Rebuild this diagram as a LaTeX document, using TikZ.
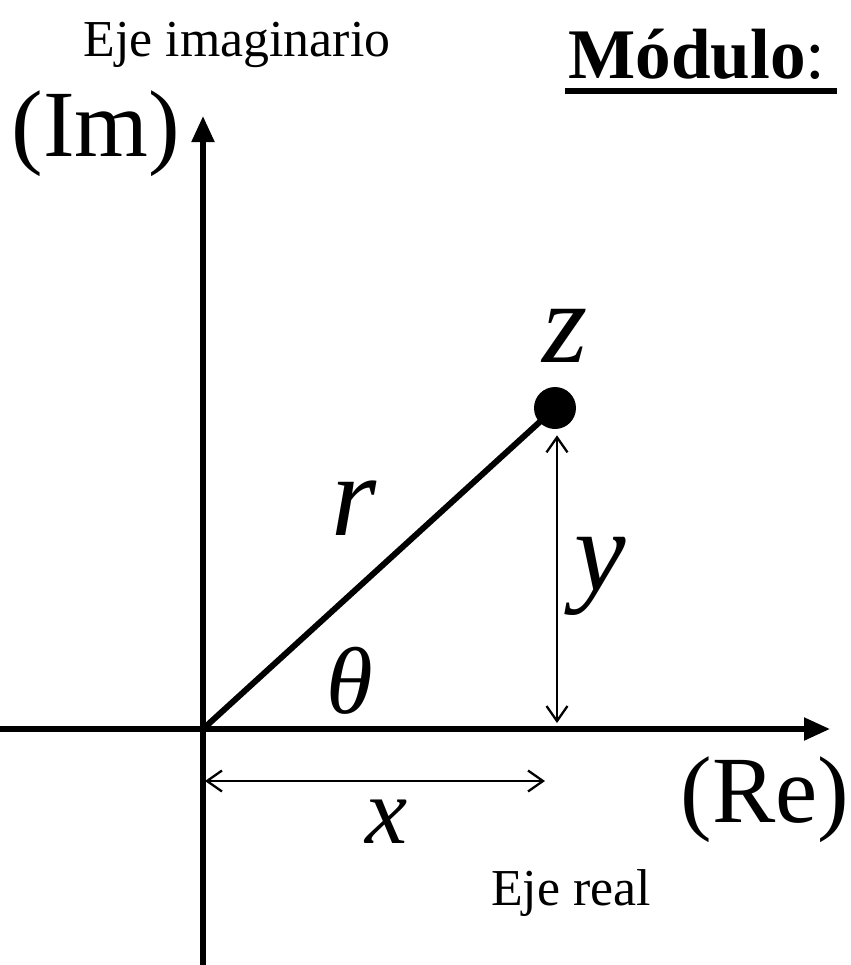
\documentclass[tikz,border=0pt]{standalone}
\usepackage{fontspec}
\setmainfont{Liberation Serif}
\usetikzlibrary{arrows.meta, positioning}
\tikzstyle{axisarrow} = [line width=2.9pt, -{Triangle[length=0.52cm, width=0.44cm]}]
\tikzstyle{measure} = [line width=1.3pt, {Straight Barb[length=0.3cm, width=0.42cm]}-{Straight Barb[length=0.3cm, width=0.42cm]}]
\tikzstyle{smalltext} = [font=\fontsize{29.5}{34}\selectfont, inner sep=0pt, anchor=base]
\tikzstyle{bigtext} = [font=\fontsize{54}{60}\selectfont, inner sep=0pt, anchor=base]
\tikzstyle{mathsym} = [font=\fontsize{66}{70}\selectfont\itshape, inner sep=0pt, anchor=base]

\begin{document}
\begin{tikzpicture}[x=0.02cm, y=-0.02cm]
    \useasboundingbox (0,0) rectangle (851,965);

    % Nodes
    \coordinate (origin) at (203,729);
    \coordinate (reend) at (830,729);
    \coordinate (reBegin) at (0,729);
    \coordinate (imend) at (203,116);
    \coordinate (imBegin) at (203,965);
    \node (z) [circle, fill=black, inner sep=0pt, minimum size=0.84cm] at (555,408) {};
    \coordinate (foot) at (557,723);
    \coordinate (xstart) at (205,781);
    \coordinate (xend) at (545,781);

    \node (ejeim) [smalltext] at (237,56) {Eje imaginario};
    \node (im) [bigtext] at (96,156) {(Im)};
    \node (re) [bigtext] at (765,822) {(Re)};
    \node (ejere) [smalltext] at (571,905) {Eje real};
    \node (modulo) [font=\fontsize{40.5}{46}\selectfont, inner sep=0pt, anchor=base] at (697,78) {\textbf{Módulo}:};

    \node (zlabel) [mathsym] at (565,362) {z};
    \node (rlabel) [mathsym] at (354,535) {r};
    \node (ylabel) [mathsym] at (600,590) {y};
    \node (thlabel) [mathsym, font=\fontsize{54}{60}\selectfont\itshape] at (350,713) {θ};
    \node (xlabel) [mathsym, font=\fontsize{54}{60}\selectfont\itshape] at (387,843) {x};

    % Arrows
    \draw [axisarrow] (reBegin) -- (reend);
    \draw [axisarrow] (imBegin) -- (imend);
    \draw [line width=3.4pt] (origin) -- (z.center);
    \draw [measure] (z.south) ++(2,6) coordinate (ytop) (ytop) -- (foot);
    \draw [measure] (xstart) -- (xend);
    \draw [line width=3.4pt] (modulo.base west) ++(-3,13) -- ++(272,0);
\end{tikzpicture}
\end{document}
